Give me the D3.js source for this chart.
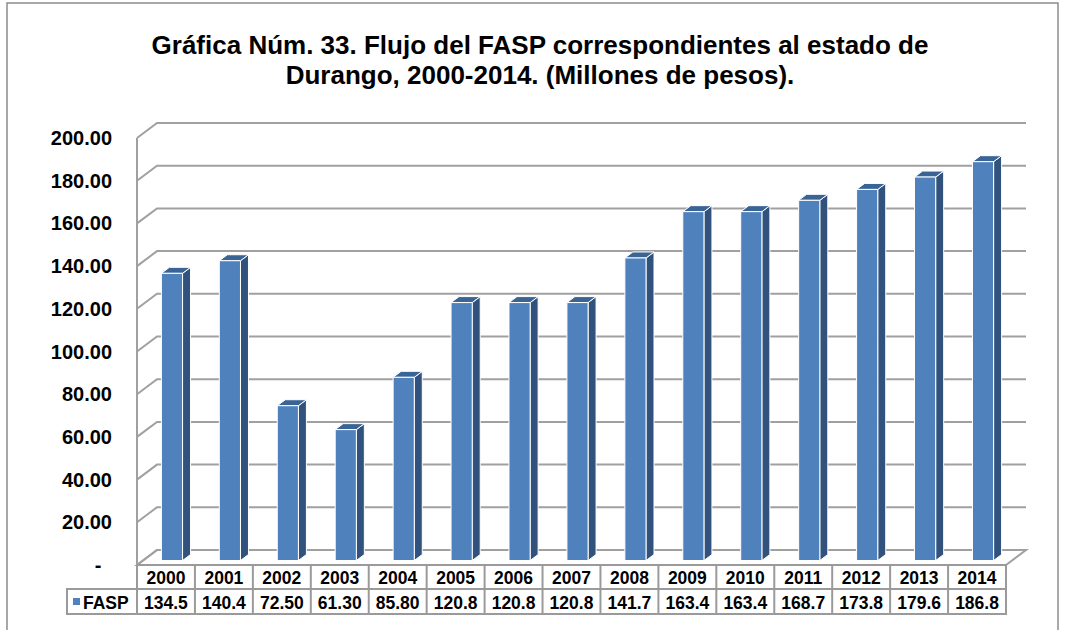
<!DOCTYPE html>
<html>
<head>
<meta charset="utf-8">
<script src="https://cdn.jsdelivr.net/npm/d3@7"></script>
<style>
  html, body { margin: 0; padding: 0; background: #ffffff; }
  svg { display: block; font-family: "Liberation Sans", Arial, sans-serif; }
</style>
</head>
<body>
<svg id="chart" width="1066" height="630"></svg>
<script>
// FASP flows to the state of Durango, millions of pesos
const years = ["2000","2001","2002","2003","2004","2005","2006","2007","2008","2009","2010","2011","2012","2013","2014"];
const faspValues = [134.5, 140.4, 72.50, 61.30, 85.80, 120.8, 120.8, 120.8, 141.7, 163.4, 163.4, 168.7, 173.8, 179.6, 186.8];
const faspLabels = ["134.5","140.4","72.50","61.30","85.80","120.8","120.8","120.8","141.7","163.4","163.4","168.7","173.8","179.6","186.8"];
const yTicks = [0, 20, 40, 60, 80, 100, 120, 140, 160, 180, 200];
const seriesName = "FASP";
const titleLines = ["Gráfica Núm. 33. Flujo del FASP correspondientes al estado de", "Durango, 2000-2014. (Millones de pesos)."];

const svg = d3.select("#chart");

// Layout of the pseudo-3D plot box
const plotLeft = 137, plotRight = 1006;
const depthX = 20, depthY = -15;     // offset from front plane to back wall
const gridColor = "#a0a0a0";
const frontColor = "#4f81bd", sideColor = "#30527d", topColor = "#3b6496";

const x = d3.scaleBand().domain(years).range([plotLeft, plotRight]).padding(0);
const y = d3.scaleLinear().domain([0, 200]).range([565, 138]);

// outer frame
svg.append("rect")
  .attr("x", 7).attr("y", 3).attr("width", 1051).attr("height", 640)
  .attr("fill", "none").attr("stroke", "#8c8c8c").attr("stroke-width", 1.5);

// title
const title = svg.append("text")
  .attr("text-anchor", "middle")
  .attr("font-size", 26).attr("font-weight", "bold").attr("fill", "#000");
titleLines.forEach((t, i) => {
  title.append("tspan").attr("x", 540).attr("y", 54 + i * 30).text(t);
});

// gridlines: diagonal on the side wall, horizontal on the back wall
const grid = svg.append("g").attr("fill", "none").attr("stroke", gridColor).attr("stroke-width", 2);
yTicks.forEach(v => {
  const yf = y(v);
  grid.append("path")
    .attr("d", `M${plotLeft},${yf} L${plotLeft + depthX},${yf + depthY} L${plotRight + depthX},${yf + depthY}`);
});
// left front edge of the side wall
grid.append("line")
  .attr("x1", plotLeft).attr("x2", plotLeft)
  .attr("y1", y(200)).attr("y2", y(0));
// floor
grid.append("path")
  .attr("d", `M${plotLeft},${y(0)} L${plotLeft + depthX},${y(0) + depthY} L${plotRight + depthX},${y(0) + depthY} L${plotRight},${y(0)} Z`);

// y-axis labels
const fmt = d3.format(",.2f");
svg.append("g")
  .attr("font-size", 20).attr("font-weight", "bold").attr("fill", "#000")
  .selectAll("text").data(yTicks).join("text")
  .attr("x", d => d === 0 ? 98 : 112)
  .attr("y", d => y(d))
  .attr("dy", "0.35em")
  .attr("text-anchor", d => d === 0 ? "middle" : "end")
  .text(d => d === 0 ? "-" : fmt(d));

// 3D bars
const bw = x.bandwidth() * 0.365;
const bdx = 8, bdy = -6;
const depthStart = 0.3;                      // fraction of wall depth where the bar's front face sits
const fx = depthX * depthStart, fy = depthY * depthStart;
const bars = svg.append("g").attr("stroke", "#ffffff").attr("stroke-width", 1).attr("stroke-linejoin", "round");
years.forEach((yr, i) => {
  const v = faspValues[i];
  const x0 = x(yr) + x.bandwidth() / 2 - bw / 2 + fx;
  const x1 = x0 + bw;
  const yb = y(0) + fy;
  const yt = y(v) + fy;
  const g = bars.append("g");
  g.append("path").attr("fill", sideColor)
    .attr("d", `M${x1},${yt} L${x1 + bdx},${yt + bdy} L${x1 + bdx},${yb + bdy} L${x1},${yb} Z`);
  g.append("path").attr("fill", topColor)
    .attr("d", `M${x0},${yt} L${x0 + bdx},${yt + bdy} L${x1 + bdx},${yt + bdy} L${x1},${yt} Z`);
  g.append("rect").attr("fill", frontColor)
    .attr("x", x0).attr("y", yt).attr("width", bw).attr("height", yb - yt);
});

// data table under the plot
const rowTop = y(0), rowMid = 589, rowBot = 614, legendLeft = 67;
const tableFont = 17.5;
const table = svg.append("g");
const lines = table.append("g").attr("stroke", "#9a9a9a").attr("stroke-width", 2).attr("fill", "none");
lines.append("path").attr("d",
  `M${plotLeft},${rowTop} L${plotRight},${rowTop} L${plotRight},${rowBot} L${legendLeft},${rowBot} L${legendLeft},${rowMid} L${plotRight},${rowMid}`);
lines.selectAll("line.col").data(years).join("line").attr("class", "col")
  .attr("x1", d => x(d)).attr("x2", d => x(d))
  .attr("y1", rowTop).attr("y2", rowBot);

table.append("g")
  .attr("font-size", tableFont).attr("font-weight", "bold").attr("fill", "#000").attr("text-anchor", "middle")
  .selectAll("text").data(years).join("text")
  .attr("x", d => x(d) + x.bandwidth() / 2)
  .attr("y", (rowTop + rowMid) / 2 + 1).attr("dy", "0.36em")
  .text(d => d);

table.append("g")
  .attr("font-size", tableFont).attr("font-weight", "bold").attr("fill", "#000").attr("text-anchor", "middle")
  .selectAll("text").data(faspLabels).join("text")
  .attr("x", (d, i) => x(years[i]) + x.bandwidth() / 2)
  .attr("y", (rowMid + rowBot) / 2 + 1).attr("dy", "0.36em")
  .text(d => d);

// legend key inside the table
table.append("rect").attr("x", 73).attr("y", 598).attr("width", 7).attr("height", 7).attr("fill", frontColor);
table.append("text")
  .attr("x", 83).attr("y", (rowMid + rowBot) / 2 + 1).attr("dy", "0.36em")
  .attr("font-size", tableFont).attr("font-weight", "bold").attr("fill", "#000")
  .text(seriesName);
</script>
</body>
</html>
